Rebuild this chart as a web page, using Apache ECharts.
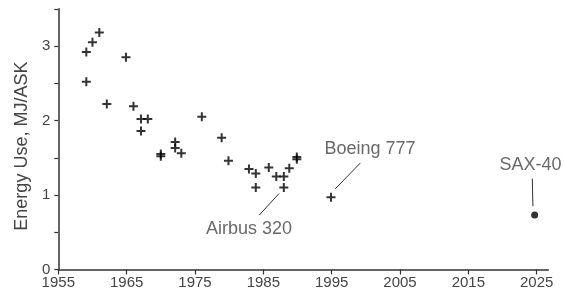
<!DOCTYPE html>
<html>
<head>
<meta charset="utf-8">
<script src="https://cdn.jsdelivr.net/npm/echarts@6/dist/echarts.min.js"></script>
<style>
html,body{margin:0;padding:0;background:#fff;}
#chart{width:564px;height:297px;}
</style>
</head>
<body>
<div id="chart"></div>
<script>
// Aircraft entry-into-service year and energy use (MJ/ASK)
const aircraftYears = [1959.1, 1960.0, 1961.0, 1959.1, 1964.9, 1962.1, 1966.0, 1967.1, 1968.1, 1967.1,
  1970.0, 1970.0, 1972.1, 1972.1, 1973.0, 1976.0, 1978.9, 1979.9, 1982.9, 1983.9,
  1983.9, 1985.8, 1986.9, 1988.0, 1988.0, 1988.8, 1989.9, 1989.9, 1994.9];
const aircraftEnergy = [2.92, 3.05, 3.18, 2.52, 2.85, 2.22, 2.19, 2.02, 2.02, 1.86,
  1.55, 1.52, 1.71, 1.63, 1.56, 2.05, 1.77, 1.46, 1.35, 1.29,
  1.10, 1.37, 1.25, 1.25, 1.10, 1.36, 1.51, 1.48, 0.97];
const saxYear = [2024.7];
const saxEnergy = [0.73];

// annotations (data units)
const annotNames = ['Boeing 777', 'Airbus 320', 'SAX-40'];
const annotTextX = [2000.6, 1982.9, 2024.1];
const annotTextY = [1.62, 0.54, 1.40];
const annotLineFrom = [[1995.5, 1.08], [1984.4, 0.73], [2024.45, 0.85]];
const annotLineTo = [[1999.2, 1.43], [1987.3, 1.02], [2024.36, 1.22]];

const xTicks = [1955, 1965, 1975, 1985, 1995, 2005, 2015, 2025];
const yTicks = [0, 0.5, 1, 1.5, 2, 2.5, 3, 3.5];
const yLabels = [0, 1, 2, 3];

const textColor = '#444';
const axisColor = '#333';
const font = 'Liberation Sans, Arial, sans-serif';

const chart = echarts.init(document.getElementById('chart'));
const plusPath = 'path://M3.5,0H5.5V3.5H9V5.5H5.5V9H3.5V5.5H0V3.5H3.5Z';

chart.setOption({
  animation: false,
  backgroundColor: '#fff',
  grid: {left: 58.3, right: 15.7, top: 8.75, bottom: 27.5, containLabel: false},
  xAxis: {
    type: 'value', min: 1955, max: 2026.7,
    splitLine: {show: false},
    axisLine: {show: true, onZero: false, lineStyle: {color: axisColor, width: 1.5}},
    axisTick: {show: true, length: 5, customValues: xTicks, lineStyle: {color: axisColor, width: 1.2}},
    axisLabel: {customValues: xTicks, formatter: v => String(v), color: textColor, fontSize: 15, fontFamily: font, margin: 6}
  },
  yAxis: {
    type: 'value', min: 0, max: 3.5,
    name: 'Energy Use, MJ/ASK', nameLocation: 'middle', nameGap: 27,
    nameTextStyle: {color: textColor, fontSize: 18, fontFamily: font, padding: [0, 14, 0, 0]},
    splitLine: {show: false},
    axisLine: {show: true, onZero: false, lineStyle: {color: axisColor, width: 1.5}},
    axisTick: {show: true, length: 4, customValues: yTicks, lineStyle: {color: axisColor, width: 1.2}},
    axisLabel: {customValues: yLabels, formatter: v => String(v), color: textColor, fontSize: 15, fontFamily: font, margin: 8}
  },
  series: [
    {
      type: 'scatter',
      symbol: plusPath, symbolSize: 9,
      itemStyle: {color: '#000'},
      data: aircraftYears.map((x, i) => [x, aircraftEnergy[i]])
    },
    {
      type: 'scatter',
      symbol: 'circle', symbolSize: 7,
      itemStyle: {color: '#000'},
      data: saxYear.map((x, i) => [x, saxEnergy[i]])
    },
    {
      type: 'scatter',
      symbol: 'circle', symbolSize: 1,
      itemStyle: {color: 'rgba(0,0,0,0)'},
      silent: true,
      label: {show: true, position: 'inside', formatter: p => p.name,
        color: textColor, fontSize: 18, fontFamily: font},
      data: annotNames.map((n, i) => ({name: n, value: [annotTextX[i], annotTextY[i]]})),
      markLine: {
        silent: true, symbol: ['none', 'none'],
        label: {show: false},
        lineStyle: {color: axisColor, width: 1, type: 'solid'},
        data: annotLineFrom.map((f, i) => [{coord: f}, {coord: annotLineTo[i]}])
      }
    }
  ]
});
</script>
</body>
</html>
